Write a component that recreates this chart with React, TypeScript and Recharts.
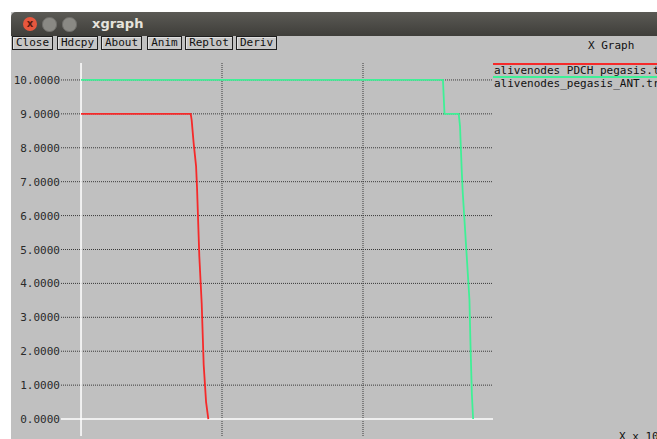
import React from 'react';
import {
  LineChart,
  Line,
  XAxis,
  YAxis,
  CartesianGrid,
  ReferenceLine
} from 'recharts';

// x in units of the xgraph x-scale (grid lines at 1 and 2), y = alive nodes
const redX = [0, 0.778, 0.785, 0.799, 0.816, 0.823, 0.839, 0.856, 0.870, 0.887, 0.903];
const redY = [9, 9, 8.81, 8.13, 7.46, 6.8, 4.8, 3.4, 1.6, 0.5, 0];
const greenX = [0, 2.567, 2.578, 2.679, 2.688, 2.700, 2.707, 2.755, 2.762, 2.772, 2.781];
const greenY = [10, 10, 9, 9, 8.64, 7.35, 6.71, 3.51, 2.24, 0.74, 0];

const yTicks = [0, 1, 2, 3, 4, 5, 6, 7, 8, 9, 10];
const xGridTicks = [1, 2];
const seriesNames = ['alivenodes_PDCH_pegasis.tr', 'alivenodes_pegasis_ANT.tr'];
const seriesColors = ['#f52a2a', '#3ff096'];
const buttonLabels = ['Close', 'Hdcpy', 'About', 'Anim', 'Replot', 'Deriv'];
const buttonLefts = [12, 57, 101, 147, 185, 236];
const buttonWidths = [41, 41, 41, 35, 48, 41];

const redData = redX.map((x, i) => ({ x, y: redY[i] }));
const greenData = greenX.map((x, i) => ({ x, y: greenY[i] }));

const mono = '"DejaVu Sans Mono", "Liberation Mono", monospace';

const renderYTick = (props: any) => {
  const { x, y, payload } = props;
  return (
    <text x={x} y={y} dy={4} textAnchor="end" fontFamily={mono} fontSize={11} fill="#2a2a2a">
      {Number(payload.value).toFixed(4)}
    </text>
  );
};

const App: React.FC = () => {
  return (
    <div
      style={{
        position: 'absolute',
        left: 0,
        top: 0,
        width: 657,
        height: 439,
        background: '#ffffff',
        overflow: 'hidden'
      }}
    >
      {/* window body */}
      <div style={{ position: 'absolute', left: 11, top: 12, width: 646, height: 427, background: '#c0c0c0' }} />
      {/* title bar */}
      <div
        style={{
          position: 'absolute',
          left: 11,
          top: 12,
          width: 646,
          height: 24,
          background: 'linear-gradient(#5b5a55, #3f3e3a)',
          borderTopLeftRadius: 5
        }}
      />
      <div style={{ position: 'absolute', left: 23, top: 17, width: 14, height: 14, borderRadius: 7, background: '#e8573e', color: '#5a1a10', fontSize: 10, lineHeight: '14px', textAlign: 'center', fontFamily: 'DejaVu Sans', fontWeight: 'bold' }}>x</div>
      <div style={{ position: 'absolute', left: 42, top: 17, width: 13, height: 13, borderRadius: 7, background: '#8a8984', border: '1px solid #6e6d69' }} />
      <div style={{ position: 'absolute', left: 62, top: 17, width: 13, height: 13, borderRadius: 7, background: '#8a8984', border: '1px solid #6e6d69' }} />
      <div style={{ position: 'absolute', left: 92, top: 16, fontFamily: '"DejaVu Sans", sans-serif', fontWeight: 'bold', fontSize: 13, color: '#e6e3dc' }}>xgraph</div>

      {/* buttons */}
      {buttonLabels.map((b, i) => (
        <div
          key={b}
          style={{
            position: 'absolute',
            left: buttonLefts[i],
            top: 36,
            width: buttonWidths[i],
            height: 14,
            boxSizing: 'border-box',
            border: '1px solid #1e1e1e',
            boxShadow: 'inset 1px 1px 0 #e0e0e0',
            background: '#c6c6c6',
            fontFamily: mono,
            fontSize: 11,
            lineHeight: '12px',
            textAlign: 'center',
            color: '#111'
          }}
        >
          {b}
        </div>
      ))}

      <div style={{ position: 'absolute', left: 588, top: 39, fontFamily: mono, fontSize: 11, color: '#111', whiteSpace: 'nowrap' }}>X Graph</div>

      {/* legend */}
      {seriesNames.map((n, i) => (
        <React.Fragment key={n}>
          <div style={{ position: 'absolute', left: 493, top: 63 + i * 13, width: 164, height: 1.5, background: seriesColors[i] }} />
          <div style={{ position: 'absolute', left: 494, top: 64 + i * 13, fontFamily: mono, fontSize: 11, color: '#111', whiteSpace: 'nowrap', lineHeight: '14px' }}>{n}</div>
        </React.Fragment>
      ))}

      <div style={{ position: 'absolute', left: 619, top: 430, fontFamily: mono, fontSize: 11, color: '#111', whiteSpace: 'nowrap' }}>X x 10</div>

      <div style={{ position: 'absolute', left: 0, top: 0 }}>
        <LineChart
          width={657}
          height={439}
          margin={{ top: 63, right: 164, left: 0, bottom: 3 }}
        >
          <CartesianGrid
            stroke="#3a3a3a"
            strokeDasharray="1 1"
            horizontalValues={yTicks.slice(1)}
            verticalValues={xGridTicks}
          />
          <XAxis
            dataKey="x"
            type="number"
            domain={[-0.142, 2.922]}
            allowDataOverflow
            hide
          />
          <YAxis
            type="number"
            domain={[-0.5, 10.5]}
            ticks={yTicks}
            width={61}
            axisLine={false}
            tickLine={false}
            tickSize={0}
            tickMargin={1}
            tick={renderYTick}
            interval={0}
            allowDataOverflow
          />
          <ReferenceLine x={0} stroke="#ffffff" strokeWidth={1.5} />
          <ReferenceLine y={0} stroke="#ffffff" strokeWidth={1.5} />
          <Line
            data={redData}
            dataKey="y"
            type="linear"
            stroke={seriesColors[0]}
            strokeWidth={1.8}
            dot={false}
            activeDot={false}
            isAnimationActive={false}
          />
          <Line
            data={greenData}
            dataKey="y"
            type="linear"
            stroke={seriesColors[1]}
            strokeWidth={1.8}
            dot={false}
            activeDot={false}
            isAnimationActive={false}
          />
        </LineChart>
      </div>
    </div>
  );
};

export default App;
